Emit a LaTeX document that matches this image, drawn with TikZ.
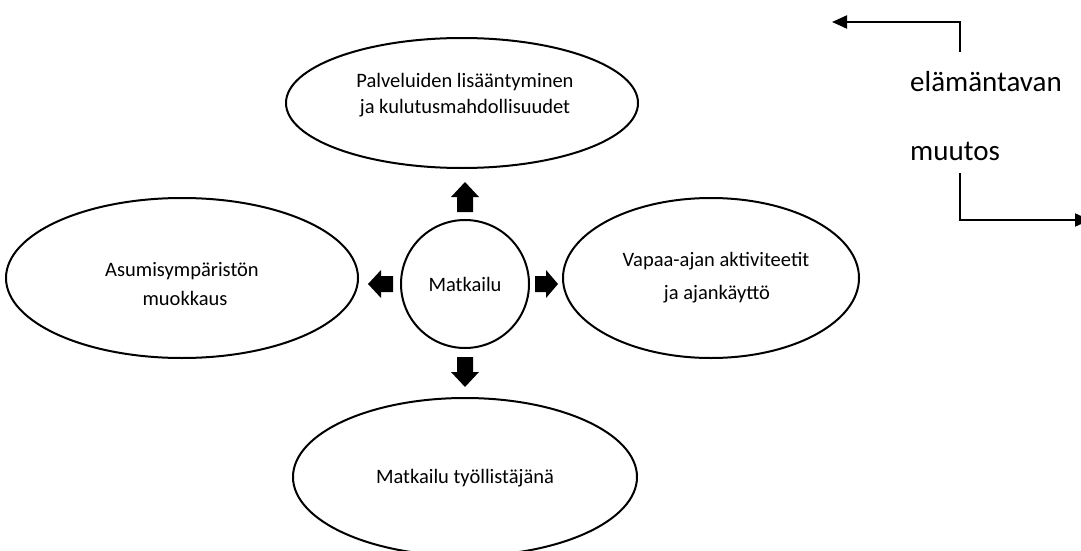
\documentclass[tikz,border=0pt]{standalone}
\usepackage{fontspec}
\setmainfont{Carlito}
\usetikzlibrary{shapes.geometric,arrows.meta}
\tikzset{
  ell/.style={draw=black, line width=2pt, ellipse, inner sep=0pt},
  circ/.style={draw=black, line width=2pt, circle, inner sep=0pt, minimum size=128pt},
  lbl/.style={anchor=base, inner sep=0pt, font=\fontsize{20.5}{25}\selectfont},
  biglbl/.style={anchor=base west, inner sep=0pt, font=\fontsize{29}{35}\selectfont},
  blockarr/.style={fill=black, draw=none},
  conn/.style={draw=black, line width=2pt, -{Triangle[length=15pt,width=13pt]}}
}
\begin{document}
\begin{tikzpicture}[x=1pt,y=-1pt]
\useasboundingbox (0,0) rectangle (1081,551);
\fill[white] (0,0) rectangle (1081,551);

% ellipses and circle
\node[ell, minimum width=352pt, minimum height=130pt] (top) at (462,103) {};
\node[ell, minimum width=352pt, minimum height=160pt] (left) at (182,278) {};
\node[ell, minimum width=296pt, minimum height=160pt] (right) at (711,278) {};
\node[ell, minimum width=344pt, minimum height=158pt] (bottom) at (465,477) {};
\node[circ] (center) at (465,284) {};

% texts
\node[lbl] (t1) at (465,88) {Palveluiden lisääntyminen};
\node[lbl] (t2) at (465,113) {ja kulutusmahdollisuudet};
\node[lbl] (l1) at (182,276) {Asumisympäristön};
\node[lbl] (l2) at (185,305) {muokkaus};
\node[lbl] (r1) at (716,266) {Vapaa-ajan aktiviteetit};
\node[lbl] (r2) at (717,299) {ja ajankäyttö};
\node[lbl] (b1) at (465,483) {Matkailu työllistäjänä};
\node[lbl] (c1) at (465,291) {Matkailu};

% block arrows
\fill[blockarr] (465,182) -- (479,197) -- (473,197) -- (473,212) -- (457,212) -- (457,197) -- (451,197) -- cycle;
\fill[blockarr] (465,387) -- (479,372) -- (473,372) -- (473,357) -- (457,357) -- (457,372) -- (451,372) -- cycle;
\fill[blockarr] (558,284) -- (546,270) -- (546,276) -- (535,276) -- (535,292) -- (546,292) -- (546,298) -- cycle;
\fill[blockarr] (368,284) -- (381,270) -- (381,276) -- (393,276) -- (393,292) -- (381,292) -- (381,298) -- cycle;

% right side text and connectors
\node[biglbl] (e1) at (910,92) {elämäntavan};
\node[biglbl] (e2) at (910,160) {muutos};
\coordinate (s1) at (960,52);
\coordinate (a1) at (832,22);
\coordinate (s2) at (960,173);
\coordinate (a2) at (1090,220);
\draw[conn] (s1) |- (a1);
\draw[conn] (s2) |- (a2);
\end{tikzpicture}
\end{document}
